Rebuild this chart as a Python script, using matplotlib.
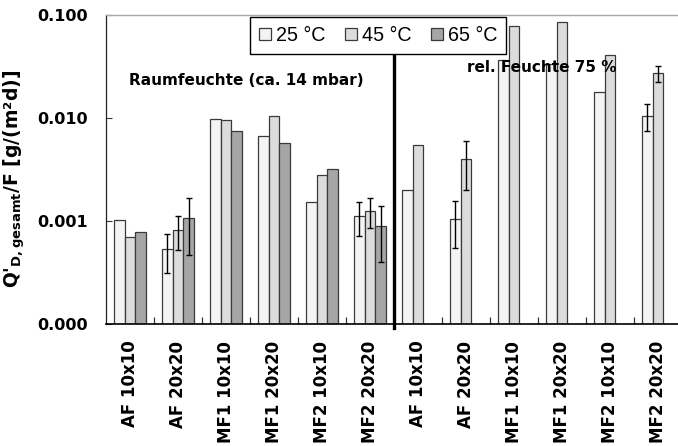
import numpy as np
import matplotlib
matplotlib.use("Agg")
import matplotlib.pyplot as plt
from matplotlib.ticker import FixedLocator, FixedFormatter

categories = ["AF 10x10", "AF 20x20", "MF1 10x10", "MF1 20x20", "MF2 10x10", "MF2 20x20",
              "AF 10x10", "AF 20x20", "MF1 10x10", "MF1 20x20", "MF2 10x10", "MF2 20x20"]
series_names = ["25 °C", "45 °C", "65 °C"]
v25 = [0.00102, 0.00053, 0.0097, 0.0067, 0.00152, 0.00112, 0.0020, 0.00105, 0.036, 0.033, 0.0179, 0.0105]
v45 = [0.00069, 0.00082, 0.0095, 0.0103, 0.00277, 0.00125, 0.0055, 0.0040, 0.078, 0.085, 0.041, 0.027]
v65 = [0.00078, 0.00107, 0.0074, 0.0057, 0.00317, 0.00090, np.nan, np.nan, np.nan, np.nan, np.nan, np.nan]
e25 = [0, 0.00022, 0, 0, 0, 0.0004, 0, 0.0005, 0, 0, 0, 0.003]
e45 = [0, 0.0003, 0, 0, 0, 0.0004, 0, 0.002, 0, 0, 0, 0.005]
e65 = [0, 0.0006, 0, 0, 0, 0.0005, 0, 0, 0, 0, 0, 0]
ytick_vals = [0.0001, 0.001, 0.01, 0.1]
ytick_labels = ["0.000", "0.001", "0.010", "0.100"]
note_left = "Raumfeuchte (ca. 14 mbar)"
note_right = "rel. Feuchte 75 %"

colors = ["#f4f4f4", "#dcdcdc", "#a6a6a6"]

plt.rcParams['mathtext.default'] = 'bf'
fig = plt.figure(figsize=(6.78, 4.46), dpi=100)
ax = fig.add_axes([106/678, 122/446, 576/678, 309.3/446])
ax.set_yscale('log')
ax.set_ylim(1e-4, 1e-1)
n = len(categories)
x = np.arange(n)
w = 0.22
handles = []
for k, (vals, errs) in enumerate(zip([v25, v45, v65], [e25, e45, e65])):
    vals = np.array(vals, dtype=float)
    errs = np.array(errs, dtype=float)
    pos = x + (k - 1) * w
    mask = ~np.isnan(vals)
    b = ax.bar(pos[mask], vals[mask], width=w, bottom=1e-6, color=colors[k],
               edgecolor="#3a3a3a", linewidth=0.9, label=series_names[k], zorder=2)
    handles.append(b)
    em = mask & (errs > 0)
    ax.errorbar(pos[em], vals[em], yerr=errs[em], fmt='none', ecolor='black',
                elinewidth=1.0, capsize=2.5, capthick=1.0, zorder=3)

ax.set_xlim(-0.5, n - 0.5)
ax.yaxis.set_major_locator(FixedLocator(ytick_vals))
ax.yaxis.set_major_formatter(FixedFormatter(ytick_labels))
ax.yaxis.set_minor_locator(FixedLocator([]))
ax.tick_params(axis='y', direction='in', length=4, width=0.8, color='#333333', pad=13)
for lab in ax.get_yticklabels():
    lab.set_fontfamily('DejaVu Sans')
    lab.set_fontweight('bold')
    lab.set_fontsize(11.5)

ax.xaxis.set_major_locator(FixedLocator(np.arange(n - 1) + 0.5))
ax.xaxis.set_major_formatter(FixedFormatter([""] * (n - 1)))
ax.xaxis.set_minor_locator(FixedLocator(x))
ax.xaxis.set_minor_formatter(FixedFormatter(categories))
ax.tick_params(axis='x', which='major', direction='in', length=5, width=0.9, color='#333333')
ax.tick_params(axis='x', which='minor', length=0, pad=12)
for lab in ax.get_xticklabels(minor=True):
    lab.set_rotation(90)
    lab.set_fontfamily('DejaVu Sans')
    lab.set_fontweight('bold')
    lab.set_fontsize(12)
    lab.set_va('top')
    lab.set_ha('center')

ax.spines['top'].set_color('#a8a8a8')
ax.spines['top'].set_linewidth(1.0)
ax.spines['left'].set_color('#222222')
ax.spines['left'].set_linewidth(0.9)
ax.spines['bottom'].set_color('black')
ax.spines['bottom'].set_linewidth(1.2)
ax.spines['right'].set_visible(False)

ax.set_ylabel("Q'$_{D,gesamt}$/F [g/(m²d)]", fontfamily='DejaVu Sans',
              fontweight='bold', fontsize=13.5)
ax.yaxis.set_label_coords(-0.137, 0.468)

ax.axvline(5.5, ymin=-0.013, ymax=0.87, color='black', linewidth=2.4, clip_on=False, zorder=4)

ax.text(0.04, 0.786, note_left, transform=ax.transAxes, fontfamily='DejaVu Sans',
        fontweight='bold', fontsize=11, va='center', ha='left', zorder=5)
ax.text(0.627, 0.828, note_right, transform=ax.transAxes, fontfamily='DejaVu Sans',
        fontweight='bold', fontsize=11, va='center', ha='left', zorder=5)

leg = ax.legend(handles=handles, loc='upper left', bbox_to_anchor=(0.25, 0.9925), ncol=3,
                prop={'family': 'Liberation Sans', 'size': 14.2}, frameon=True, fancybox=False,
                shadow=False, handlelength=0.6, handleheight=0.6, handletextpad=0.25,
                columnspacing=1.0, borderpad=0.45, borderaxespad=0.0)
leg.get_frame().set_edgecolor('black')
leg.get_frame().set_linewidth(1.0)
leg.get_frame().set_alpha(1.0)
leg.set_zorder(6)

fig.savefig("out.png", dpi=100)
